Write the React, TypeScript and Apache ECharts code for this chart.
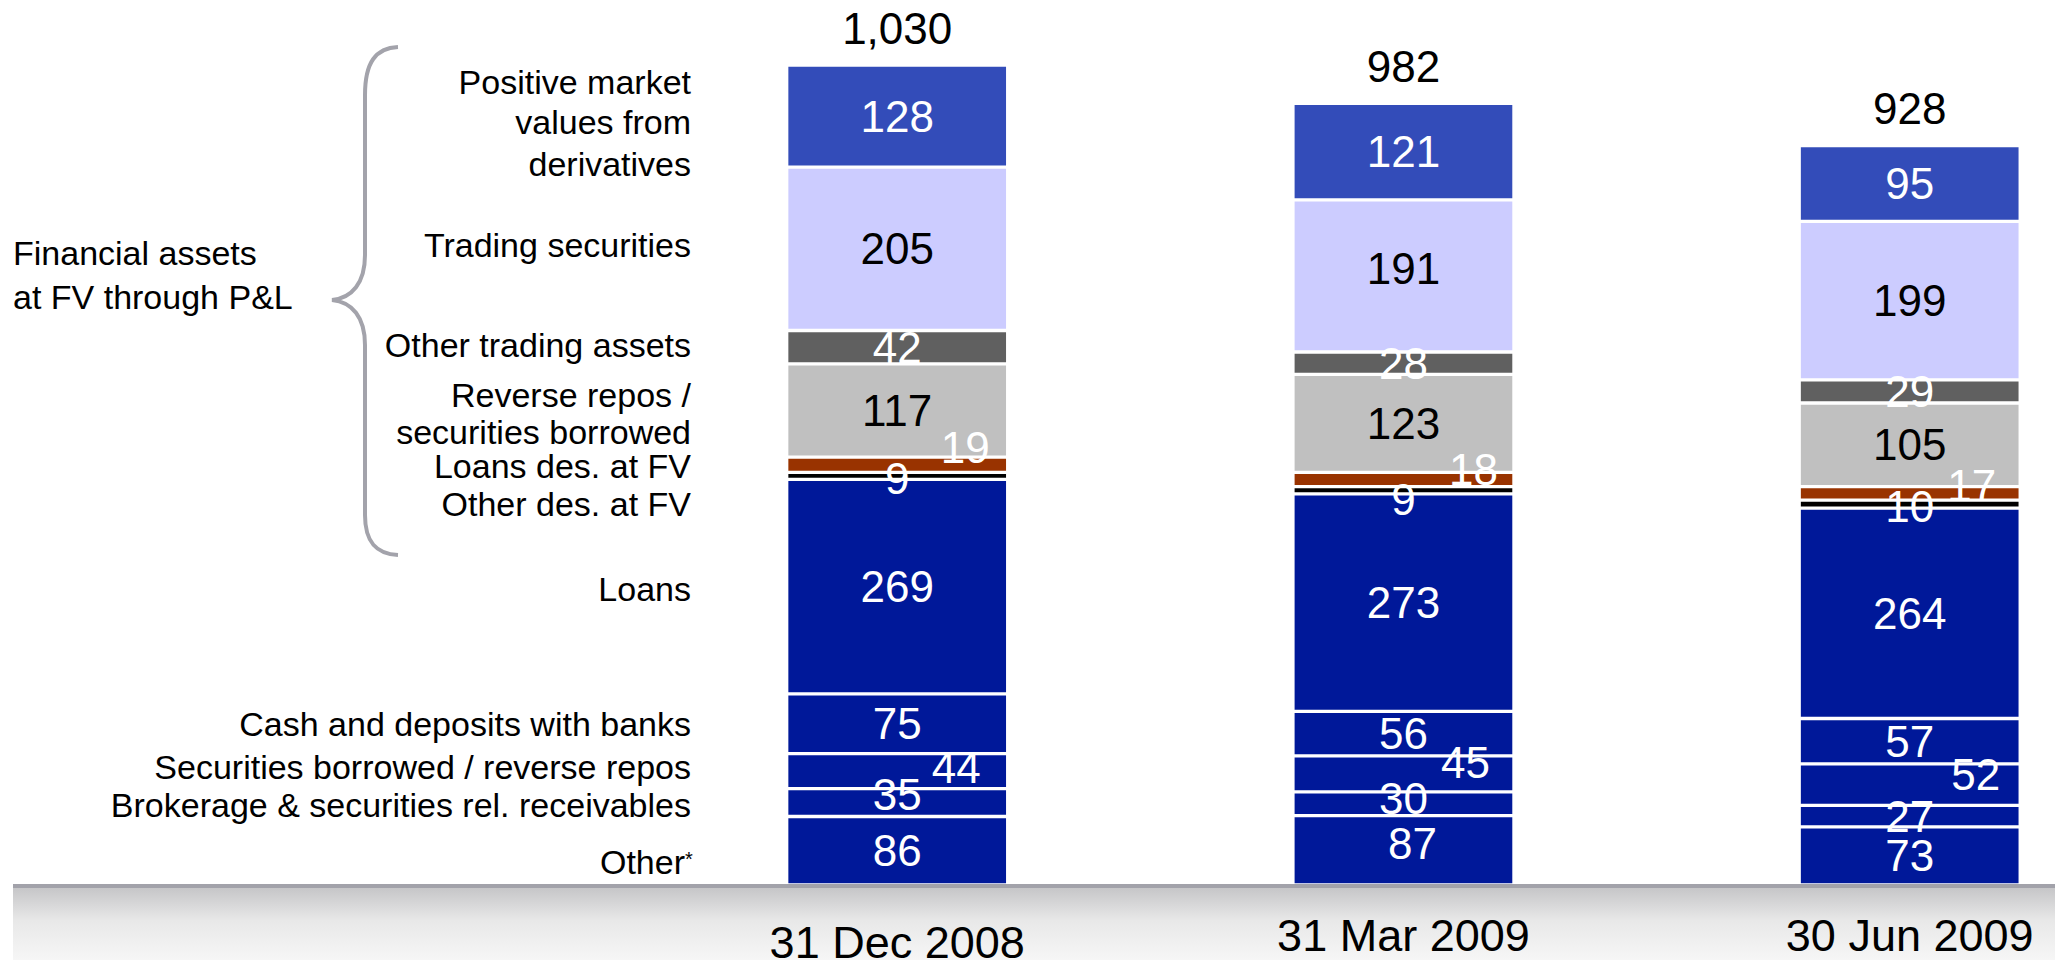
import React, { useEffect, useRef } from "react";
import * as echarts from "echarts";

// ---------- data ----------
const categories = ["31 Dec 2008", "31 Mar 2009", "30 Jun 2009"];
const totals = [1030, 982, 928];
const otherAssets = [86, 87, 73];
const brokerage = [35, 30, 27];
const secBorrowed = [44, 45, 52];
const cashDeposits = [75, 56, 57];
const loans = [269, 273, 264];
const otherDesFV = [9, 9, 10];
const loansDesFV = [19, 18, 17];
const reverseRepos = [117, 123, 105];
const otherTrading = [42, 28, 29];
const tradingSec = [205, 191, 199];
const derivatives = [128, 121, 95];

const sideLabels = [
  "Positive market",
  "values from",
  "derivatives",
  "Trading securities",
  "Other trading assets",
  "Reverse repos /",
  "securities borrowed",
  "Loans des. at FV",
  "Other des. at FV",
  "Loans",
  "Cash and deposits with banks",
  "Securities borrowed / reverse repos",
  "Brokerage & securities rel. receivables",
];
const groupLabel = ["Financial assets", "at FV through P&L"];
const otherLabel = "Other";

// ---------- layout / style ----------
const FONT = '"Liberation Sans", Arial, Helvetica, sans-serif';
const sideLabelY = [81.5, 122, 163.5, 244.5, 345, 395, 432, 466, 504, 588.5, 723.5, 766.5, 805];
const groupLabelY = [253, 297];
const NAVY = "#001899";

const BRACE_D =
  "M 398 47 C 376 48 365 62 365 95 L 365 255 C 365 283 352 298 332 300 " +
  "C 352 302 365 317 365 345 L 365 515 C 365 542 376 554 398 555";
echarts.graphic.registerShape("brace", echarts.graphic.extendPath(BRACE_D, {}));

type Off = [number, number];
const Z: Off = [0, 0];

const seriesDefs: {
  name: string;
  values: number[];
  color: string;
  text: string;
  offsets: Off[];
}[] = [
  { name: "Other*", values: otherAssets, color: NAVY, text: "#fff", offsets: [Z, [9, -7], Z] },
  { name: "Brokerage & securities rel. receivables", values: brokerage, color: NAVY, text: "#fff", offsets: [[0, -8], [0, -5], Z] },
  { name: "Securities borrowed / reverse repos", values: secBorrowed, color: NAVY, text: "#fff", offsets: [[59, -4], [62, -11], [66, -10]] },
  { name: "Cash and deposits with banks", values: cashDeposits, color: NAVY, text: "#fff", offsets: [Z, Z, Z] },
  { name: "Loans", values: loans, color: NAVY, text: "#fff", offsets: [Z, Z, Z] },
  { name: "Other des. at FV", values: otherDesFV, color: "#000000", text: "#fff", offsets: [[0, 3], [0, 9], [0, 2]] },
  { name: "Loans des. at FV", values: loansDesFV, color: "#993300", text: "#fff", offsets: [[68, -17], [70, -10], [62, -8]] },
  { name: "Reverse repos / securities borrowed", values: reverseRepos, color: "#c0c0c0", text: "#000", offsets: [Z, Z, Z] },
  { name: "Other trading assets", values: otherTrading, color: "#606060", text: "#fff", offsets: [Z, Z, Z] },
  { name: "Trading securities", values: tradingSec, color: "#ccccff", text: "#000", offsets: [Z, [0, -7], Z] },
  { name: "Positive market values from derivatives", values: derivatives, color: "#334cb9", text: "#fff", offsets: [Z, Z, Z] },
];

function buildOption(): any {
  const series: any[] = seriesDefs.map((d) => ({
    name: d.name,
    type: "bar",
    stack: "assets",
    barWidth: 221,
    itemStyle: { color: d.color, borderColor: "#ffffff", borderWidth: 1.65 },
    label: {
      show: true,
      position: "inside",
      color: d.text,
      fontSize: 44,
      fontFamily: FONT,
      formatter: "{c}",
    },
    data: d.values.map((v, i) => ({ value: v, label: { offset: d.offsets[i] } })),
  }));
  series.push({
    name: "Total",
    type: "bar",
    stack: "assets",
    barWidth: 221,
    itemStyle: { color: "transparent", borderWidth: 0 },
    label: {
      show: true,
      position: "top",
      distance: 15,
      color: "#000",
      fontSize: 44,
      fontFamily: FONT,
      formatter: (p: any) => totals[p.dataIndex].toLocaleString("en-US"),
    },
    data: categories.map(() => 0),
  });

  const graphics: any[] = [];
  sideLabels.forEach((t, i) => {
    graphics.push({
      type: "text",
      z: 10,
      x: 691,
      y: sideLabelY[i],
      style: {
        text: t,
        fill: "#000",
        fontSize: 34,
        fontFamily: FONT,
        textAlign: "right",
        textVerticalAlign: "middle",
      },
    });
  });
  graphics.push({
    type: "text",
    z: 10,
    x: 685,
    y: 862,
    style: { text: otherLabel, fill: "#000", fontSize: 34, fontFamily: FONT, textAlign: "right", textVerticalAlign: "middle" },
  });
  graphics.push({
    type: "text",
    z: 10,
    x: 685,
    y: 849,
    style: { text: "*", fill: "#000", fontSize: 20, fontFamily: FONT, textAlign: "left", textVerticalAlign: "top" },
  });
  groupLabel.forEach((t, i) => {
    graphics.push({
      type: "text",
      z: 10,
      x: 13,
      y: groupLabelY[i],
      style: { text: t, fill: "#000", fontSize: 34, fontFamily: FONT, textAlign: "left", textVerticalAlign: "middle" },
    });
  });
  graphics.push({
    type: "brace",
    z: 10,
    x: 0,
    y: 0,
    style: { fill: "none", stroke: "#a3a3ab", lineWidth: 4 },
  });
  graphics.push({
    type: "rect",
    z: 5,
    shape: { x: 13, y: 888, width: 2042, height: 72 },
    style: {
      fill: new echarts.graphic.LinearGradient(0, 0, 0, 1, [
        { offset: 0, color: "#c6c6c8" },
        { offset: 0.45, color: "#e8e8e8" },
        { offset: 1, color: "#f6f6f6" },
      ]),
    },
  });
  graphics.push({
    type: "rect",
    z: 5,
    shape: { x: 13, y: 884, width: 2042, height: 4 },
    style: { fill: "#a2a2aa" },
  });

  return {
    animation: false,
    backgroundColor: "#ffffff",
    grid: {
      left: 897.2,
      right: 145.3,
      top: 8.6,
      bottom: 75,
      containLabel: false,
      outerBoundsMode: "none",
    },
    xAxis: {
      type: "category",
      data: categories,
      boundaryGap: false,
      z: 10,
      axisLine: { show: false },
      axisTick: { show: false },
      axisLabel: {
        margin: 28,
        interval: 0,
        formatter: (v: string, i: number) => (i === 0 ? `{low|${v}}` : `{std|${v}}`),
        rich: {
          std: { fontSize: 45, fontFamily: FONT, color: "#000", lineHeight: 45 },
          low: { fontSize: 45, fontFamily: FONT, color: "#000", lineHeight: 58 },
        },
      },
    },
    yAxis: { type: "value", min: 0, max: 1100, show: false },
    series,
    graphic: graphics,
  };
}

export default function App() {
  const ref = useRef<HTMLDivElement>(null);
  useEffect(() => {
    if (!ref.current) return;
    const chart = echarts.init(ref.current, null, { renderer: "svg" });
    chart.setOption(buildOption());
    return () => chart.dispose();
  }, []);
  return (
    <div
      ref={ref}
      style={{ position: "fixed", left: 0, top: 0, width: 2055, height: 960, background: "#fff" }}
    />
  );
}
